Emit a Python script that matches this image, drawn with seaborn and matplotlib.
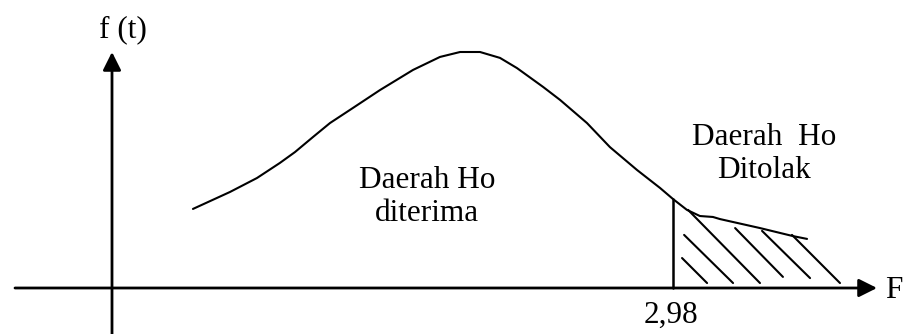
import matplotlib
matplotlib.use("Agg")
import matplotlib.pyplot as plt
import seaborn as sns
import pandas as pd

# curve f(t) (F on x, relative height on y)
curve_F = [0.430, 0.627, 0.770, 0.892, 0.972, 1.068, 1.158, 1.280, 1.424, 1.599,
           1.742, 1.849, 1.902, 1.955, 2.061, 2.151, 2.290, 2.380, 2.523, 2.645,
           2.789, 2.911, 2.980, 3.054, 3.123, 3.192, 3.230, 3.442, 3.617, 3.692]
curve_f = [0.335, 0.407, 0.466, 0.530, 0.576, 0.640, 0.699, 0.763, 0.839, 0.924,
           0.979, 1.000, 1.000, 1.000, 0.975, 0.932, 0.852, 0.797, 0.699, 0.597,
           0.500, 0.424, 0.377, 0.331, 0.305, 0.301, 0.292, 0.254, 0.220, 0.208]

# critical value
f_crit = 2.98
f_crit_height = 0.377

# hand drawn hatch strokes in the rejection region
hatch_x0 = [3.028, 3.039, 3.060, 3.310, 3.453, 3.612]
hatch_y0 = [0.127, 0.225, 0.331, 0.254, 0.242, 0.225]
hatch_x1 = [3.161, 3.299, 3.442, 3.564, 3.708, 3.867]
hatch_y1 = [0.021, 0.021, 0.021, 0.047, 0.042, 0.021]

label_accept = "Daerah Ho\nditerima"
label_reject = "Daerah  Ho\nDitolak"
label_y = "f (t)"
label_x = "F"
label_crit = "2,98"

sns.set_style("white")
plt.rcParams["font.family"] = ["Liberation Serif", "DejaVu Serif"]
plt.rcParams["text.color"] = "black"

fig = plt.figure(figsize=(9.05, 3.34), dpi=100)
ax = fig.add_axes([0, 0, 1, 1])

# pixel -> data mapping used for the limits (origin at px 112/288)
sx = 2.98 / 561
sy = 1 / 236
ax.set_xlim(-112 * sx, (905 - 112) * sx)
ax.set_ylim(-(334 - 288) * sy, 288 * sy)
ax.axis("off")

# axes with arrows
ax.annotate("", xy=((877 - 112) * sx, 0), xytext=((15 - 112) * sx, 0),
            arrowprops=dict(arrowstyle="-|>,head_length=1.1,head_width=0.55",
                            lw=2, color="black", shrinkA=0, shrinkB=0))
ax.annotate("", xy=(0, 1.0), xytext=(0, -(334 - 288) * sy),
            arrowprops=dict(arrowstyle="-|>,head_length=1.1,head_width=0.55",
                            lw=2, color="black", shrinkA=0, shrinkB=0))

df = pd.DataFrame({"F": curve_F, "f": curve_f})
sns.lineplot(data=df, x="F", y="f", sort=False, estimator=None,
             color="black", lw=1.5, ax=ax)

ax.plot([f_crit, f_crit], [0, f_crit_height], color="black", lw=1.8)

segs = pd.DataFrame({
    "x": hatch_x0 + hatch_x1,
    "y": hatch_y0 + hatch_y1,
    "seg": list(range(len(hatch_x0))) * 2,
})
sns.lineplot(data=segs, x="x", y="y", units="seg", estimator=None, sort=False,
             color="black", lw=1.5, ax=ax)

fs = 22.5
ax.text((427 - 112) * sx, (288 - 197) * sy, label_accept, ha="center", va="center",
        fontsize=fs, linespacing=1.15, color="black")
ax.text((764 - 112) * sx, (288 - 154) * sy, label_reject, ha="center", va="center",
        fontsize=fs, linespacing=1.15, color="black")
ax.text((123 - 112) * sx, (288 - 30) * sy, label_y, ha="center", va="center",
        fontsize=fs, color="black")
ax.text((894 - 112) * sx, (288 - 290) * sy, label_x, ha="center", va="center",
        fontsize=fs, color="black")
ax.text(f_crit - 0.01, (288 - 315) * sy, label_crit, ha="center", va="center",
        fontsize=fs, color="black")

ax.set_xlabel("")
ax.set_ylabel("")
fig.savefig("out.png", dpi=100)
